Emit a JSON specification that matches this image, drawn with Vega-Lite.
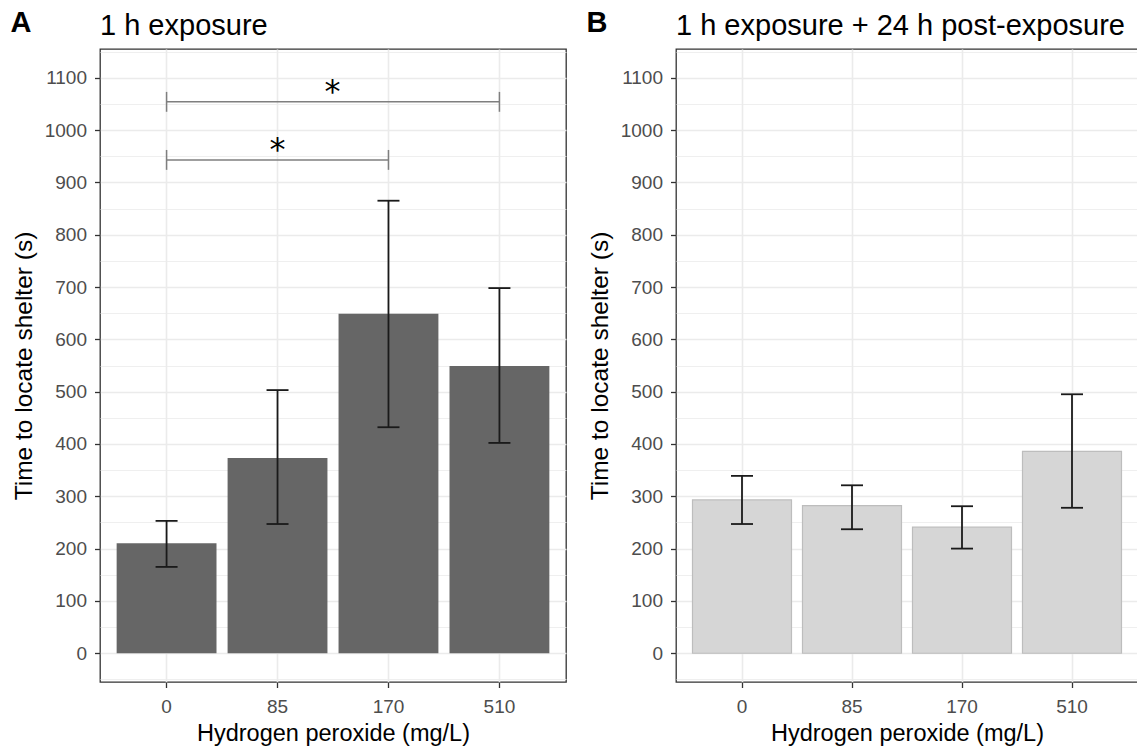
{
  "$schema": "https://vega.github.io/schema/vega-lite/v6.json",
  "padding": {"left": 10, "top": 9, "right": 0, "bottom": 0},
  "autosize": {"type": "pad"},
  "datasets": {
    "a": [
      {"dose": "0", "mean": 210, "lo": 165, "hi": 253},
      {"dose": "85", "mean": 373, "lo": 247, "hi": 503},
      {"dose": "170", "mean": 649, "lo": 432, "hi": 865},
      {"dose": "510", "mean": 549, "lo": 402, "hi": 698}
    ],
    "b": [
      {"dose": "0", "mean": 293, "lo": 247, "hi": 339},
      {"dose": "85", "mean": 282, "lo": 237, "hi": 321},
      {"dose": "170", "mean": 241, "lo": 200, "hi": 281},
      {"dose": "510", "mean": 386, "lo": 278, "hi": 495}
    ],
    "brk": [
      {"from": "0", "to": "510", "y": 1054, "ylo": 1035, "yhi": 1073, "star": "*", "pos": "gap"},
      {"from": "0", "to": "170", "y": 943, "ylo": 924, "yhi": 962, "star": "*", "pos": "mid"}
    ]
  },
  "config": {
    "font": "Liberation Sans",
    "view": {"stroke": "#333333", "strokeWidth": 1.3},
    "axis": {
      "domain": false, "grid": true, "gridColor": "#EBEBEB", "gridWidth": 1.6,
      "tickColor": "#333333", "tickSize": 5.5, "tickWidth": 1.3,
      "labelColor": "#4D4D4D", "labelFont": "Liberation Sans", "labelFontSize": 19,
      "titleFont": "Liberation Sans", "titleFontSize": 23.5, "titleFontWeight": "normal", "titleColor": "#000000"
    },
    "axisY": {"titleFontSize": 24.5},
    "title": {"font": "Liberation Sans", "fontSize": 29, "fontWeight": "normal", "color": "#000000", "anchor": "start", "frame": "group", "baseline": "bottom", "offset": 8},
    "concat": {"spacing": 19}
  },
  "hconcat": [
    {
      "title": {"text": "A", "fontWeight": "bold", "frame": "bounds", "offset": -27, "dx": 0},
      "vconcat": [
        {
          "title": {"text": "1 h exposure"},
          "width": 466, "height": 633,
          "resolve": {"axis": {"y": "independent"}},
          "layer": [
            {
              "data": {"name": "a"},
              "mark": {"type": "bar", "fill": "#666666"},
              "encoding": {
                "x": {"field": "dose", "type": "nominal", "title": "Hydrogen peroxide (mg/L)", "scale": {"domain": ["0", "85", "170", "510"], "paddingInner": 0.1, "paddingOuter": 0.15}, "axis": {"labelAngle": 0, "labelPadding": 10, "titlePadding": 5}},
                "y": {"field": "mean", "type": "quantitative", "title": "Time to locate shelter (s)", "scale": {"domain": [-55, 1155], "nice": false, "zero": false},
                  "axis": {"orient": "left", "values": [0, 100, 200, 300, 400, 500, 600, 700, 800, 900, 1000, 1100], "format": "d", "gridWidth": 1.6, "labelPadding": 8, "titlePadding": 8}},
                "y2": {"datum": 0}
              }
            },
            {
              "data": {"name": "a"},
              "mark": {"type": "rule", "color": "#1A1A1A", "strokeWidth": 1.8},
              "encoding": {
                "x": {"field": "dose", "type": "nominal", "title": "Hydrogen peroxide (mg/L)", "scale": {"domain": ["0", "85", "170", "510"]}},
                "y": {"field": "lo", "type": "quantitative", "axis": {"orient": "right", "values": [-50, 50, 150, 250, 350, 450, 550, 650, 750, 850, 950, 1050, 1150], "grid": true, "gridWidth": 0.8, "labels": false, "ticks": false, "domain": false, "title": null}},
                "y2": {"field": "hi"}
              }
            },
            {
              "data": {"name": "a"},
              "transform": [{"fold": ["lo", "hi"], "as": ["k", "v"]}],
              "mark": {"type": "tick", "color": "#1A1A1A", "size": 22, "thickness": 1.8, "opacity": 1},
              "encoding": {
                "x": {"field": "dose", "type": "nominal", "title": "Hydrogen peroxide (mg/L)", "scale": {"domain": ["0", "85", "170", "510"]}},
                "y": {"field": "v", "type": "quantitative", "axis": null}
              }
            },
            {
              "data": {"name": "brk"},
              "mark": {"type": "rule", "color": "#7F7F7F", "strokeWidth": 1.5},
              "encoding": {
                "x": {"field": "from", "type": "nominal", "title": "Hydrogen peroxide (mg/L)", "scale": {"domain": ["0", "85", "170", "510"]}},
                "x2": {"field": "to"},
                "y": {"field": "y", "type": "quantitative", "axis": null}
              }
            },
            {
              "data": {"name": "brk"},
              "transform": [{"fold": ["from", "to"], "as": ["end", "at"]}],
              "mark": {"type": "rule", "color": "#7F7F7F", "strokeWidth": 1.5},
              "encoding": {
                "x": {"field": "at", "type": "nominal", "title": "Hydrogen peroxide (mg/L)", "scale": {"domain": ["0", "85", "170", "510"]}},
                "y": {"field": "ylo", "type": "quantitative", "axis": null},
                "y2": {"field": "yhi"}
              }
            },
            {
              "data": {"name": "brk"},
              "transform": [{"filter": "datum.pos === 'gap'"}],
              "mark": {"type": "text", "font": "DejaVu Sans", "fontSize": 32, "baseline": "alphabetic", "color": "#000000"},
              "encoding": {
                "x": {"datum": "85", "type": "nominal", "bandPosition": 1.05, "title": "Hydrogen peroxide (mg/L)", "scale": {"domain": ["0", "85", "170", "510"]}},
                "y": {"field": "y", "type": "quantitative", "axis": null},
                "text": {"field": "star"}
              }
            },
            {
              "data": {"name": "brk"},
              "transform": [{"filter": "datum.pos === 'mid'"}],
              "mark": {"type": "text", "font": "DejaVu Sans", "fontSize": 32, "baseline": "alphabetic", "color": "#000000"},
              "encoding": {
                "x": {"datum": "85", "type": "nominal", "title": "Hydrogen peroxide (mg/L)", "scale": {"domain": ["0", "85", "170", "510"]}},
                "y": {"field": "y", "type": "quantitative", "axis": null},
                "text": {"field": "star"}
              }
            }
          ]
        }
      ]
    },
    {
      "title": {"text": "B", "fontWeight": "bold", "frame": "bounds", "offset": -27, "dx": 0},
      "vconcat": [
        {
          "title": {"text": "1 h exposure + 24 h post-exposure"},
          "width": 462, "height": 633,
          "resolve": {"axis": {"y": "independent"}},
          "layer": [
            {
              "data": {"name": "b"},
              "mark": {"type": "bar", "fill": "#D6D6D6", "stroke": "#BDBDBD", "strokeWidth": 1.2},
              "encoding": {
                "x": {"field": "dose", "type": "nominal", "title": "Hydrogen peroxide (mg/L)", "scale": {"domain": ["0", "85", "170", "510"], "paddingInner": 0.1, "paddingOuter": 0.15}, "axis": {"labelAngle": 0, "labelPadding": 10, "titlePadding": 5}},
                "y": {"field": "mean", "type": "quantitative", "title": "Time to locate shelter (s)", "scale": {"domain": [-55, 1155], "nice": false, "zero": false},
                  "axis": {"orient": "left", "values": [0, 100, 200, 300, 400, 500, 600, 700, 800, 900, 1000, 1100], "format": "d", "gridWidth": 1.6, "labelPadding": 8, "titlePadding": 8}},
                "y2": {"datum": 0}
              }
            },
            {
              "data": {"name": "b"},
              "mark": {"type": "rule", "color": "#1A1A1A", "strokeWidth": 1.8},
              "encoding": {
                "x": {"field": "dose", "type": "nominal", "title": "Hydrogen peroxide (mg/L)", "scale": {"domain": ["0", "85", "170", "510"]}},
                "y": {"field": "lo", "type": "quantitative", "axis": {"orient": "right", "values": [-50, 50, 150, 250, 350, 450, 550, 650, 750, 850, 950, 1050, 1150], "grid": true, "gridWidth": 0.8, "labels": false, "ticks": false, "domain": false, "title": null}},
                "y2": {"field": "hi"}
              }
            },
            {
              "data": {"name": "b"},
              "transform": [{"fold": ["lo", "hi"], "as": ["k", "v"]}],
              "mark": {"type": "tick", "color": "#1A1A1A", "size": 22, "thickness": 1.8, "opacity": 1},
              "encoding": {
                "x": {"field": "dose", "type": "nominal", "title": "Hydrogen peroxide (mg/L)", "scale": {"domain": ["0", "85", "170", "510"]}},
                "y": {"field": "v", "type": "quantitative", "axis": null}
              }
            }
          ]
        }
      ]
    }
  ]
}
